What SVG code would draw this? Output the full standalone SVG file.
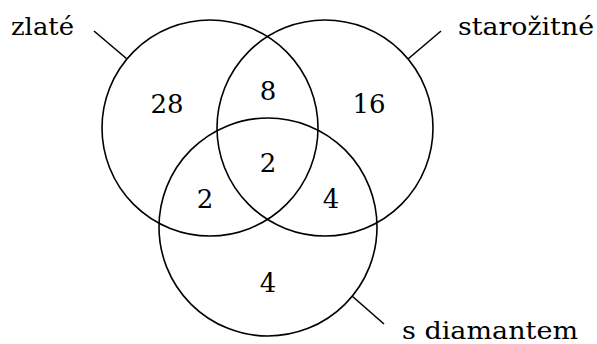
<svg xmlns="http://www.w3.org/2000/svg" width="597" height="344" viewBox="0 0 597 344">
<style>
.c{fill:none;stroke:#000;stroke-width:1.6}
.l{stroke:#000;stroke-width:1.6}
.n{font-size:26px;text-anchor:middle}
.t{font-size:24px}
</style>
<rect width="597" height="344" fill="#fff"/>
<g font-family="'DejaVu Serif', 'Liberation Serif', serif" fill="#000">
<g id="zlate">
<circle class="c" cx="210" cy="128" r="108"/>
<text class="t" x="11" y="35" textLength="63" lengthAdjust="spacingAndGlyphs">zlaté</text>
</g>
<g id="starozitne">
<circle class="c" cx="325" cy="128" r="108"/>
<text class="t" x="458" y="35" textLength="136" lengthAdjust="spacingAndGlyphs">starožitné</text>
</g>
<g id="diamant">
<circle class="c" cx="268" cy="227" r="109"/>
<text class="t" x="402" y="339" textLength="176" lengthAdjust="spacingAndGlyphs">s diamantem</text>
</g>
<g id="connectors">
<line class="l" x1="94" y1="31" x2="127" y2="59"/>
<line class="l" x1="441" y1="31" x2="408" y2="59"/>
<line class="l" x1="352" y1="296" x2="384" y2="324"/>
</g>
<g id="counts">
<text class="n" x="167" y="113">28</text>
<text class="n" x="268" y="100">8</text>
<text class="n" x="369" y="113">16</text>
<text class="n" x="268" y="172">2</text>
<text class="n" x="205" y="208">2</text>
<text class="n" x="331" y="208">4</text>
<text class="n" x="268" y="292">4</text>
</g>
</g>
</svg>
